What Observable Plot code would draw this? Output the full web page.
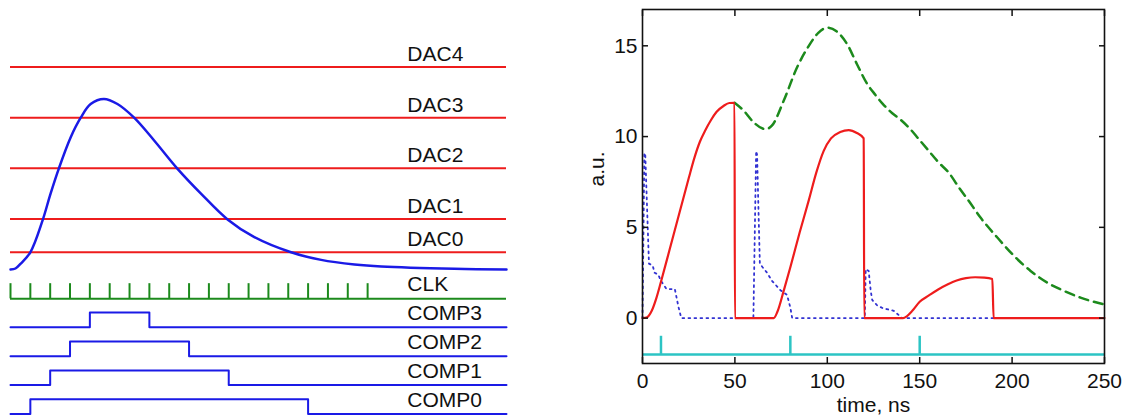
<!DOCTYPE html>
<html><head><meta charset="utf-8">
<script src="https://cdn.jsdelivr.net/npm/d3@7"></script>
<script src="https://cdn.jsdelivr.net/npm/@observablehq/plot@0.6"></script>
<style>
body{margin:0;background:#fff;}
#wrap{position:relative;width:1125px;height:419px;overflow:hidden;background:#fff;}
#left{position:absolute;left:0;top:0;}
#right{position:absolute;left:560px;top:0;}
svg{overflow:visible;}
</style></head><body><div id="wrap"><div id="left"></div><div id="right"></div></div>
<script>
// ---------- Left panel data (time in clock periods, amplitude in DAC steps) ----------
const dacNames = ["DAC0", "DAC1", "DAC2", "DAC3", "DAC4"];
const dacLevels = [0.34, 1, 2, 3, 4];
const timeSpan = [0, 25];
const pulseT = [0, 0.25, 0.5, 1.0, 1.6, 2.02, 2.44, 3.03, 3.54, 4.04, 4.71, 5.39, 6.23, 7.24, 8.42, 9.6, 10.94, 12.29, 14.14, 15.66, 17.34, 18.69, 22.37, 25];
const pulseV = [0, 0.02, 0.11, 0.34, 0.95, 1.5, 2.0, 2.61, 3.0, 3.27, 3.37, 3.27, 3.0, 2.55, 1.99, 1.5, 0.99, 0.64, 0.34, 0.19, 0.10, 0.06, 0.014, 0];
const clkTicks = [0, 1, 2, 3, 4, 5, 6, 7, 8, 9, 10, 11, 12, 13, 14, 15, 16, 17, 18];
const compNames = ["COMP3", "COMP2", "COMP1", "COMP0"];
const compRise = [4, 3, 2, 1];
const compFall = [7, 9, 11, 15];

// ---------- Right panel data (time, ns / a.u.) ----------
const xTickValues = [0, 50, 100, 150, 200, 250];
const yTickValues = [0, 5, 10, 15];
const redT = [0, 2.5, 5, 7.5, 10, 15, 20, 25, 28, 31, 34, 37, 40, 44, 47, 49.8, 50, 71, 73, 76.4, 80, 85, 90, 94, 98, 102, 107, 111.6, 116, 119.7, 120, 141, 143, 146, 150, 155, 160, 165, 170, 175, 180, 185, 189.3, 190, 250];
const redV = [0, 0.05, 0.4, 1.1, 2.0, 3.9, 5.8, 7.7, 8.8, 9.7, 10.35, 10.9, 11.35, 11.7, 11.85, 11.86, 0, 0, 0.35, 1.5, 2.8, 4.7, 6.5, 8.0, 9.2, 9.9, 10.25, 10.36, 10.2, 9.9, 0, 0, 0.1, 0.4, 0.9, 1.25, 1.58, 1.85, 2.07, 2.2, 2.25, 2.23, 2.15, 0, 0];
const greenT = [49.8, 55, 60, 66.5, 70, 76.4, 83.6, 90, 95, 100, 105, 110.7, 116, 121.6, 126, 130, 135, 140, 145, 149.5, 155, 160, 165.8, 171.2, 176.6, 182.9, 192, 201, 210, 219, 228, 237, 250];
const greenV = [11.86, 11.4, 10.8, 10.41, 10.6, 11.97, 13.8, 15.0, 15.7, 16.0, 15.8, 15.1, 14.0, 12.9, 12.3, 11.8, 11.3, 10.9, 10.4, 9.86, 9.2, 8.6, 8.0, 7.2, 6.45, 5.54, 4.44, 3.43, 2.6, 1.96, 1.5, 1.13, 0.75];
const blueT = [0, 1, 1.5, 3.5, 5.5, 6.5, 8.5, 10, 13, 17.5, 19.5, 21, 60, 61.5, 62, 63.5, 65, 67.4, 70.1, 74.6, 78.2, 80, 81, 120.3, 120.8, 122.4, 123.5, 124.3, 127, 130, 136, 140.5, 250];
const blueV = [0, 9.1, 9.0, 3.0, 2.9, 2.5, 2.4, 2.05, 1.6, 1.6, 0.6, 0, 0, 9.2, 9.0, 3.0, 2.8, 2.5, 2.05, 1.54, 1.28, 0.58, 0, 0, 2.7, 2.6, 1.5, 1.0, 0.7, 0.55, 0.4, 0, 0];
const triggerTicks = [10, 80, 150];
const triggerLow = -2, triggerHigh = -1;

// ---------- styles ----------
const FONT = "'Liberation Sans', Arial, Helvetica, sans-serif";
const RED = "#ee1c1c", BLUE = "#1a1ae6", GREEN = "#1c8a1c", CYAN = "#2cc4c4", DOT = "#3232d2";

// ---------- Left panel ----------
const pulse = pulseT.map((t, i) => ({t, v: pulseV[i]}));
const clkBase = -0.58, clkHeight = 0.30;
const compBase0 = -1.14, compGap = 0.572, compHeight = 0.29;
const compRows = compNames.map((name, i) => ({name, base: compBase0 - i * compGap, rise: compRise[i], fall: compFall[i]}));
const compPts = compRows.flatMap(r => [
  [timeSpan[0], r.base], [r.rise, r.base], [r.rise, r.base + compHeight],
  [r.fall, r.base + compHeight], [r.fall, r.base], [timeSpan[1], r.base]
].map(([t, v]) => ({name: r.name, t, v})));
const labelX = 20;
const dacLabelData = dacNames.map((n, i) => ({n, v: dacLevels[i]}));
const digLabelData = [{n: "CLK", v: clkBase}, ...compRows.map(r => ({n: r.name, v: r.base}))];

const left = Plot.plot({
  width: 560, height: 419,
  marginLeft: 10, marginRight: 54, marginTop: 0, marginBottom: 0,
  x: {domain: timeSpan, axis: null},
  y: {domain: [-2.964, 5.316], axis: null},
  style: {fontFamily: FONT, fontSize: "21px", background: "transparent"},
  marks: [
    Plot.ruleY(dacLevels, {y: d => d, x1: timeSpan[0], x2: timeSpan[1], stroke: RED, strokeWidth: 2}),
    Plot.line(pulse, {x: "t", y: "v", curve: "catmull-rom", stroke: BLUE, strokeWidth: 2.5}),
    Plot.ruleY([clkBase], {y: d => d, x1: timeSpan[0], x2: timeSpan[1], stroke: GREEN, strokeWidth: 2}),
    Plot.ruleX(clkTicks, {x: d => d, y1: clkBase, y2: clkBase + clkHeight, stroke: GREEN, strokeWidth: 2}),
    Plot.line(compPts, {x: "t", y: "v", z: "name", stroke: BLUE, strokeWidth: 2}),
    Plot.text(dacLabelData, {x: () => labelX, y: "v", text: "n", textAnchor: "start", lineAnchor: "bottom", dy: -6, fill: "#111", fontSize: 21}),
    Plot.text(digLabelData, {x: () => labelX, y: "v", text: "n", textAnchor: "start", lineAnchor: "bottom", dy: -7.5, fill: "#111", fontSize: 21})
  ]
});
document.getElementById("left").appendChild(left);

// ---------- Right panel ----------
const red = redT.map((t, i) => ({t, v: redV[i]}));
const green = greenT.map((t, i) => ({t, v: greenV[i]}));
const blue = blueT.map((t, i) => ({t, v: blueV[i]}));
const blank = () => "";

const right = Plot.plot({
  width: 565, height: 419,
  marginLeft: 82, marginRight: 21, marginTop: 9, marginBottom: 56,
  x: {domain: [0, 250], label: null},
  y: {domain: [-2.5, 17], label: null},
  style: {fontFamily: FONT, fontSize: "21px", background: "transparent", color: "#111"},
  marks: [
    Plot.line(blue, {x: "t", y: "v", stroke: DOT, strokeWidth: 1.8, strokeDasharray: "1.8,4.2"}),
    Plot.line(green, {x: "t", y: "v", curve: "monotone-x", stroke: GREEN, strokeWidth: 2.5, strokeDasharray: "9,6"}),
    Plot.line(red, {x: "t", y: "v", curve: "monotone-x", stroke: RED, strokeWidth: 2.2}),
    Plot.ruleY([triggerLow], {y: d => d, x1: 0, x2: 250, stroke: CYAN, strokeWidth: 2.5}),
    Plot.ruleX(triggerTicks, {x: d => d, y1: triggerLow, y2: triggerHigh, stroke: CYAN, strokeWidth: 2.5}),
    Plot.axisX({anchor: "bottom", ticks: xTickValues, tickSize: -6, tickFormat: blank, strokeWidth: 1.5}),
    Plot.axisX({anchor: "top", ticks: xTickValues, tickSize: -6, tickFormat: blank, strokeWidth: 1.5}),
    Plot.axisY({anchor: "left", ticks: yTickValues, tickSize: -6, tickFormat: blank, strokeWidth: 1.5}),
    Plot.axisY({anchor: "right", ticks: yTickValues, tickSize: -6, tickFormat: blank, strokeWidth: 1.5}),
    Plot.axisX({anchor: "bottom", ticks: xTickValues, tickSize: 0, tickPadding: 10, label: null, fontSize: 21}),
    Plot.axisY({anchor: "left", ticks: yTickValues, tickSize: 0, tickPadding: 5, label: null, fontSize: 21}),
    Plot.frame({stroke: "#111", strokeWidth: 1.6}),
    Plot.text(["time, ns"], {frameAnchor: "bottom", dy: 48.7, lineAnchor: "bottom", fontSize: 21, fill: "#111"}),
    Plot.text(["a.u."], {frameAnchor: "left", dx: -39, rotate: -90, lineAnchor: "bottom", fontSize: 21, fill: "#111"})
  ]
});
document.getElementById("right").appendChild(right);
</script></body></html>
